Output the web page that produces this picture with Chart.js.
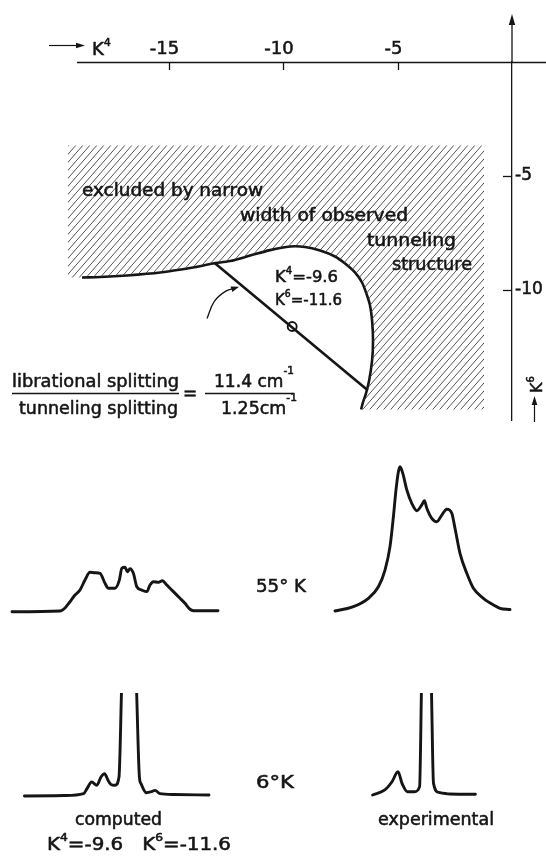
<!DOCTYPE html>
<html>
<head>
<meta charset="utf-8">
<script src="https://cdn.jsdelivr.net/npm/chart.js@4.4.1/dist/chart.umd.min.js"></script>
<style>
  html, body { margin: 0; padding: 0; background: #fff; }
  #sheet { position: relative; width: 546px; height: 861px; overflow: hidden; background: #fff; }
  #sheet canvas { position: absolute; }
</style>
</head>
<body>
<div id="sheet">
  <canvas id="plane" width="546" height="861" style="left:0;top:0"></canvas>
  <canvas id="calc55"></canvas>
  <canvas id="exp55"></canvas>
  <canvas id="calc6"></canvas>
  <canvas id="exp6"></canvas>
</div>
<script>
// ---------- crystal-field parameter plane (K4, K6) ----------
const K4_TICKS = [-15, -10, -5];
const K6_TICKS = [-5, -10];

// boundary of the parameter region allowed by the narrow tunnelling structure
const BOUNDARY_K4 = [-18.78, -17.99, -16.81, -15.37, -13.93, -13.06, -12.31, -11.44, -10.57, -9.69, -9.04, -8.38,
                     -7.73, -7.29, -6.86, -6.55, -6.33, -6.20, -6.11, -6.07, -6.11, -6.24, -6.38, -6.51, -6.59];
const BOUNDARY_K6 = [-9.45, -9.43, -9.36, -9.23, -9.01, -8.84, -8.73, -8.49, -8.25, -8.09, -8.11, -8.27,
                     -8.53, -8.84, -9.23, -9.67, -10.24, -10.68, -11.34, -12.21, -13.09, -13.97, -14.54, -14.93, -15.24];

// outer corners of the excluded (hatched) region: bottom-left, top-left, top-right, bottom-right
const EXCLUDED_K4 = [-19.39, -19.39, -1.22, -1.22];
const EXCLUDED_K6 = [-9.45, -3.66, -3.66, -15.24];

// line of constant librational / tunnelling splitting ratio
const RATIO_LINE_K4 = [-13.0, -6.3];
const RATIO_LINE_K6 = [-8.8, -14.4];

// parameters used for the computed spectra
const CHOSEN_K4 = [-9.6];
const CHOSEN_K6 = [-11.6];

// small curved pointer toward the ratio line
const POINTER_K4 = [-13.32, -13.0, -12.5, -12.05];
const POINTER_K6 = [-11.25, -10.5, -10.05, -9.9];

// ---------- spectra (relative frequency, relative intensity) ----------
const CALC55_X = [0, 24, 26.5, 29, 31.5, 34, 36.5, 39, 41.5, 44, 46.5, 48.2, 51.5, 53.7, 54.9, 56.5, 57.7, 59, 60.7,
                  62.4, 64.9, 67.4, 69, 70.7, 73.2, 75.2, 77.4, 80.7, 84, 86.5, 89, 90.7, 103];
const CALC55_I = [0, 0.5, 2.6, 6.9, 11.6, 15.0, 22.0, 27.3, 27.0, 26.6, 19.7, 16.2, 16.2, 22.0, 30.1, 30.8, 27.7, 29.8, 26.6,
                  17.3, 15.0, 13.9, 18.5, 20.8, 20.4, 21.5, 18.5, 13.9, 9.3, 5.8, 1.7, 0.7, 0.7];

const EXP55_X = [0, 9.2, 16.7, 21.7, 25, 27.5, 29.2, 30.5, 31.7, 32.5, 33.9, 35.9, 38.4, 40.9, 43.4, 44.7, 45.9, 48.4,
                 50.9, 53.4, 55.9, 58.4, 60, 62.5, 65.9, 69.2, 74.2, 79.2, 82.5, 87.5];
const EXP55_I = [0, 3.0, 8.8, 16.8, 28.4, 44.6, 65.3, 83.9, 96.5, 100, 95.4, 83.9, 74.6, 69.5, 73.5, 76.4, 71.2, 64.2,
                 61.9, 66.5, 70.5, 67.7, 57.3, 40.0, 26.1, 15.7, 8.8, 4.2, 1.9, 1.0];

const CALC6_X = [0, 20, 29.6, 31.3, 33.6, 36.2, 38.3, 40.1, 41.8, 43.2, 45.3, 47.3, 48.6, 52.2, 56.05, 57.5, 58.3,
                 60.9, 63.6, 65.3, 67.8, 74.8, 92.3];
const CALC6_I = [0, 0.3, 1.6, 5.1, 9.7, 7.4, 13.2, 15.5, 10.9, 8.1, 7.4, 13.2, 75, 240, 75, 13.2, 8.5,
                 2.3, 3.0, 3.9, 1.6, 1.0, 0.7];

const EXP6_X = [0, 6.1, 9.7, 12.7, 14.7, 17.4, 20.9, 23.5, 24.45, 26.7, 29.4, 30.45, 33.1, 38.7, 51.4];
const EXP6_I = [0, 3.5, 9.2, 16.2, 8.1, 2.3, 2.3, 5.8, 75, 240, 75, 8.1, 1.8, 0.7, 0.5];

// ---------- appearance ----------
const FONT = "'DejaVu Sans', 'Liberation Sans', sans-serif";
const INK = '#151515';
Chart.defaults.font.family = FONT;
Chart.defaults.color = INK;

const pts = (xs, ys) => xs.map((x, i) => ({ x, y: ys[i] }));

function hatchPattern() {
  const c = document.createElement('canvas');
  c.width = 7; c.height = 8;
  const g = c.getContext('2d');
  g.strokeStyle = '#383838';
  g.lineWidth = 0.85;
  for (const dx of [-7, 0, 7]) {
    g.beginPath();
    g.moveTo(dx - 1, 8 + 8 / 7);
    g.lineTo(dx + 8, -8 / 7);
    g.stroke();
  }
  return g.createPattern(c, 'repeat');
}

// text placed around the figure
const NOTES = [
  { parts: [['excluded by narrow']], x: 82, y: 196, size: 18, w: 181 },
  { parts: [['width of observed']], x: 240, y: 221, size: 18, w: 168 },
  { parts: [['tunneling']], x: 367, y: 246, size: 18, w: 89 },
  { parts: [['structure']], x: 392, y: 270, size: 18, w: 80 },
  { parts: [['K'], ['4', 1], ['=-9.6']], x: 275, y: 282, size: 16, w: 63 },
  { parts: [['K'], ['6', 1], ['=-11.6']], x: 275, y: 305, size: 16, w: 67 },
  { parts: [['librational splitting']], x: 12, y: 387, size: 17.5, w: 167 },
  { parts: [['tunneling splitting']], x: 19, y: 414, size: 17.5, w: 159 },
  { parts: [['=']], x: 183, y: 399, size: 17 },
  { parts: [['11.4 cm'], ['-1', 1]], x: 214, y: 387, size: 17.5, w: 80, raise: 0.75 },
  { parts: [['1.25cm'], ['-1', 1]], x: 221, y: 414, size: 17.5, w: 76, raise: 0.75 },
  { parts: [['55° K']], x: 256, y: 592, size: 18, w: 50 },
  { parts: [['6°K']], x: 256, y: 788, size: 18, w: 38 },
  { parts: [['computed']], x: 75, y: 825, size: 17, w: 87 },
  { parts: [['experimental']], x: 378, y: 825, size: 17, w: 116 },
  { parts: [['K'], ['4', 1], ['=-9.6   K'], ['6', 1], ['=-11.6']], x: 47, y: 850, size: 17.5, w: 184 }
];
const FRACTION_BARS = [[12, 179, 393], [205, 293, 393]];

function drawRich(ctx, note) {
  const size = note.size;
  const pieces = note.parts.map(([t, sup]) => ({ t, sup: !!sup }));
  const fontFor = p => `${p.sup ? size * 0.62 : size}px ${FONT}`;
  let natural = 0;
  pieces.forEach(p => { ctx.font = fontFor(p); p.w = ctx.measureText(p.t).width; natural += p.w; });
  const sx = note.w ? note.w / natural : 1;
  ctx.save();
  ctx.translate(note.x, note.y);
  if (note.rot) ctx.rotate(note.rot);
  ctx.scale(sx, 1);
  ctx.fillStyle = INK;
  ctx.strokeStyle = INK;
  ctx.lineWidth = 0.55;
  ctx.lineJoin = 'round';
  ctx.textAlign = 'left';
  ctx.textBaseline = 'alphabetic';
  let cx = 0;
  pieces.forEach(p => {
    ctx.font = fontFor(p);
    const dy = p.sup ? -size * (note.raise || 0.5) : 0;
    ctx.fillText(p.t, cx, dy);
    ctx.strokeText(p.t, cx, dy);
    cx += p.w;
  });
  ctx.restore();
}

function arrowHead(ctx, x, y, angle, len, half) {
  ctx.save();
  ctx.translate(x, y);
  ctx.rotate(angle);
  ctx.beginPath();
  ctx.moveTo(0, 0);
  ctx.lineTo(-len, -half);
  ctx.lineTo(-len, half);
  ctx.closePath();
  ctx.fill();
  ctx.restore();
}

const planeDecor = {
  id: 'planeDecor',
  afterDraw(chart) {
    const { ctx, chartArea: area, scales: { x, y } } = chart;
    ctx.save();
    ctx.strokeStyle = INK;
    ctx.fillStyle = INK;
    ctx.lineWidth = 1.3;

    // K4 axis line, running on past the K6 axis
    const axisY = Math.round(area.top) + 0.5;
    ctx.beginPath();
    ctx.moveTo(x.getPixelForValue(-19.0), axisY);
    ctx.lineTo(chart.width, axisY);
    ctx.stroke();

    // K6 axis continues upward with an arrow
    const axisX = x.getPixelForValue(0);
    ctx.beginPath();
    ctx.moveTo(axisX, area.top);
    ctx.lineTo(axisX, 24);
    ctx.stroke();
    arrowHead(ctx, axisX, 14, -Math.PI / 2, 11, 3.2);

    // inward tick marks
    x.ticks.forEach(t => {
      const px = Math.round(x.getPixelForValue(t.value)) + 0.5;
      ctx.beginPath(); ctx.moveTo(px, area.top); ctx.lineTo(px, area.top + 8); ctx.stroke();
    });
    y.ticks.forEach(t => {
      const py = Math.round(y.getPixelForValue(t.value)) + 0.5;
      ctx.beginPath(); ctx.moveTo(axisX - 9, py); ctx.lineTo(axisX, py); ctx.stroke();
    });

    // axis names
    ctx.lineWidth = 1.2;
    ctx.beginPath(); ctx.moveTo(49, 45.5); ctx.lineTo(78, 45.5); ctx.stroke();
    arrowHead(ctx, 85, 45.5, 0, 9, 2.8);
    drawRich(ctx, { parts: [['K'], ['4', 1]], x: 92, y: 55, size: 18 });

    drawRich(ctx, { parts: [['K'], ['6', 1]], x: 542, y: 393, size: 16, rot: -Math.PI / 2 });
    ctx.lineWidth = 1.2;
    ctx.beginPath(); ctx.moveTo(534.5, 422); ctx.lineTo(534.5, 404); ctx.stroke();
    arrowHead(ctx, 534.5, 396, -Math.PI / 2, 9, 2.8);

    // head of the curved pointer
    const p = chart.getDatasetMeta(3).data;
    const a = p[p.length - 2], b = p[p.length - 1];
    arrowHead(ctx, b.x + 3, b.y - 1, Math.atan2(b.y - a.y, b.x - a.x), 8, 3);

    // annotations
    NOTES.forEach(n => drawRich(ctx, n));
    ctx.lineWidth = 1.4;
    FRACTION_BARS.forEach(([x1, x2, yy]) => {
      ctx.beginPath(); ctx.moveTo(x1, yy + 0.5); ctx.lineTo(x2, yy + 0.5); ctx.stroke();
    });
    ctx.restore();
  }
};

const excludedPts = pts(EXCLUDED_K4, EXCLUDED_K6).concat(pts(BOUNDARY_K4, BOUNDARY_K6).reverse());

const tickText = { textStrokeColor: INK, textStrokeWidth: 0.55 };

new Chart(document.getElementById('plane'), {
  type: 'scatter',
  data: {
    datasets: [
      { data: excludedPts, showLine: true, borderWidth: 0, pointRadius: 0, tension: 0,
        fill: 'shape', backgroundColor: hatchPattern(), clip: false },
      { data: pts(BOUNDARY_K4, BOUNDARY_K6), showLine: true, borderColor: INK, borderWidth: 2.6,
        pointRadius: 0, tension: 0.3, fill: false },
      { data: pts(RATIO_LINE_K4, RATIO_LINE_K6), showLine: true, borderColor: INK, borderWidth: 2.6,
        pointRadius: 0, fill: false },
      { data: pts(POINTER_K4, POINTER_K6), showLine: true, borderColor: INK, borderWidth: 1.3,
        pointRadius: 0, tension: 0.4, fill: false },
      { data: pts(CHOSEN_K4, CHOSEN_K6), showLine: false, pointRadius: 4.5, pointStyle: 'circle',
        pointBackgroundColor: '#fff', pointBorderColor: INK, pointBorderWidth: 1.9 }
    ]
  },
  options: {
    responsive: false,
    animation: false,
    events: [],
    layout: { padding: { left: 65.5, top: 0, right: 0, bottom: 441 } },
    plugins: { legend: { display: false }, tooltip: { enabled: false } },
    scales: {
      x: {
        type: 'linear', position: 'top', min: -19.5, max: 0,
        afterBuildTicks: s => { s.ticks = K4_TICKS.map(v => ({ value: v })); },
        afterFit: s => { s.height = 62; },
        grid: { display: false, drawTicks: false },
        border: { display: false },
        ticks: { font: { size: 18 }, color: INK, padding: 2, labelOffset: -4, maxRotation: 0, autoSkip: false, ...tickText }
      },
      y: {
        type: 'linear', position: 'right', min: -15.7, max: 0,
        afterBuildTicks: s => { s.ticks = K6_TICKS.map(v => ({ value: v })); },
        afterFit: s => { s.width = 34; },
        grid: { display: false, drawTicks: false },
        border: { display: true, color: INK, width: 1.3 },
        ticks: { font: { size: 17 }, color: INK, padding: 3, autoSkip: false, ...tickText }
      }
    }
  },
  plugins: [planeDecor]
});

// ---------- spectra panels ----------
const PX_PER_FREQ = 2;       // horizontal drawing scale of the spectra
const PX_PER_INTENSITY = 1.443;

function spectrum(id, xs, ys, frame) {
  const el = document.getElementById(id);
  el.width = frame.width; el.height = frame.height;
  el.style.left = frame.left + 'px';
  el.style.top = frame.top + 'px';
  const xmin = (frame.left - frame.originX) / PX_PER_FREQ;
  const xmax = xmin + frame.width / PX_PER_FREQ;
  const ymin = -(frame.top + frame.height - frame.baseline) / PX_PER_INTENSITY;
  const ymax = ymin + frame.height / PX_PER_INTENSITY;
  return new Chart(el, {
    type: 'scatter',
    data: { datasets: [{
      data: pts(xs, ys), showLine: true, borderColor: INK, borderWidth: 2.9, pointRadius: 0,
      cubicInterpolationMode: 'monotone', fill: false, borderJoinStyle: 'round', borderCapStyle: 'round'
    }] },
    options: {
      responsive: false, animation: false, events: [],
      layout: { padding: 0 },
      plugins: { legend: { display: false }, tooltip: { enabled: false } },
      scales: {
        x: { type: 'linear', display: false, min: xmin, max: xmax },
        y: { type: 'linear', display: false, min: ymin, max: ymax }
      }
    }
  });
}

spectrum('calc55', CALC55_X, CALC55_I, { left: 4, top: 540, width: 222, height: 80, originX: 12, baseline: 611.7 });
spectrum('exp55', EXP55_X, EXP55_I, { left: 325, top: 455, width: 195, height: 165, originX: 335, baseline: 611 });
spectrum('calc6', CALC6_X, CALC6_I, { left: 14, top: 693, width: 210, height: 112, originX: 24.4, baseline: 796 });
spectrum('exp6', EXP6_X, EXP6_I, { left: 362, top: 693, width: 125, height: 112, originX: 372.6, baseline: 795 });
</script>
</body>
</html>
